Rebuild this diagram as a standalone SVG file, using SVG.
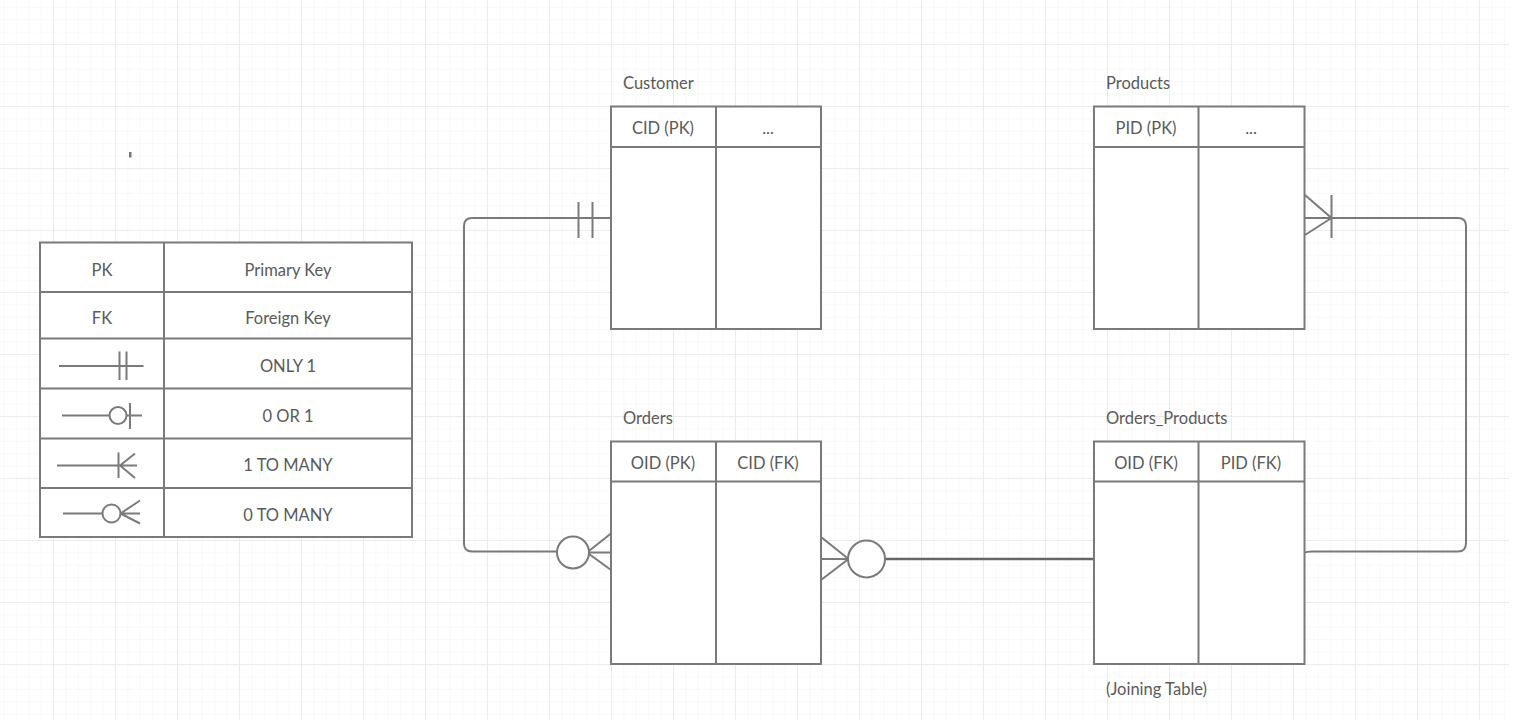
<svg xmlns="http://www.w3.org/2000/svg" width="1514" height="720" viewBox="0 0 1514 720">
<defs>
<pattern id="minor" patternUnits="userSpaceOnUse" x="53" y="44" width="12.4" height="12.4">
<path d="M0 0V12.4M0 0H12.4" fill="none" stroke="#f3f3f3" stroke-width="1"/>
</pattern>
<pattern id="major" patternUnits="userSpaceOnUse" x="53" y="44" width="62" height="62">
<path d="M0 0V62M0 0H62" fill="none" stroke="#e8e8e8" stroke-width="1.6"/>
</pattern>
<style>
.t{font-family:Lato,"Liberation Sans",sans-serif;font-size:16.5px;fill:#5a5a5a}
.c{text-anchor:middle}
.box{fill:#fff;stroke:#7a7a7a;stroke-width:2}
.ln{fill:none;stroke:#7a7a7a;stroke-width:2}
.sym{fill:#fff;stroke:#7a7a7a;stroke-width:2}
</style>
</defs>
<rect width="1514" height="720" fill="#fff"/>
<rect x="0" y="0" width="1509" height="720" fill="url(#minor)"/>
<rect x="0" y="0" width="1509" height="720" fill="url(#major)"/>
<rect x="129" y="152" width="2.5" height="5.5" fill="#777"/>

<g id="legend">
<rect class="box" x="40" y="242.5" width="372" height="294.5"/>
<path class="ln" d="M164 242.5V537M40 292H412M40 338.5H412M40 388.5H412M40 438.5H412M40 488H412"/>
<text class="t c" x="102" y="275.5">PK</text>
<text class="t c" x="288" y="275.5">Primary Key</text>
<text class="t c" x="102" y="324">FK</text>
<text class="t c" x="288" y="324">Foreign Key</text>
<text class="t c" x="288" y="372">ONLY 1</text>
<text class="t c" x="288" y="421.5">0 OR 1</text>
<text class="t c" x="288" y="471">1 TO MANY</text>
<text class="t c" x="288" y="520.5">0 TO MANY</text>
<path class="ln" d="M59 366H143.5M119.5 351.5V380M126.5 351.5V380"/>
<path class="ln" d="M62 415.5H109.5M126.5 415.5H142M130 403V429"/>
<circle class="sym" cx="118" cy="415.5" r="8.5"/>
<path class="ln" d="M57 465.5H137M118.5 452.5V478M120 465.5L135 453.5M120 465.5L135 478"/>
<path class="ln" d="M63 513.5H103M120.5 513.5H140M120.5 513.5L140 500.5M120.5 513.5L140 523.5"/>
<circle class="sym" cx="111.5" cy="513.5" r="9"/>
</g>

<g id="connectors">
<path class="ln" d="M611 218H472Q464 218 464 226V543.5Q464 551.5 472 551.5H557"/>
<path class="ln" d="M578.5 202V238M592.5 202V238"/>
<path class="ln" d="M588.5 552.5H611M587 552.5L611 533.5M587 552.5L611 570"/>
<circle class="sym" cx="573" cy="552.5" r="16"/>
<path class="ln" d="M821 559H848.5M821 537L848.5 559M821 580L848.5 559"/>
<path d="M885 559H1094" fill="none" stroke="#666" stroke-width="2.4"/>
<circle class="sym" cx="866.5" cy="559" r="18.5"/>
<path class="ln" d="M1305 218H1458Q1466 218 1466 226V543Q1466 551.5 1458 551.5H1312Q1306 551.5 1305 553"/>
<path class="ln" d="M1331.5 195V238M1305 195L1331.5 218M1305 235L1331.5 218"/>
</g>

<g id="customer">
<text class="t" x="623" y="89">Customer</text>
<rect class="box" x="611" y="106.5" width="210" height="222.5"/>
<path class="ln" d="M716 106.5V329M611 147H821"/>
<text class="t c" x="663" y="133.5">CID (PK)</text>
<text class="t c" x="768" y="133.5">...</text>
</g>

<g id="products">
<text class="t" x="1106" y="89">Products</text>
<rect class="box" x="1094" y="106.5" width="210.5" height="222.5"/>
<path class="ln" d="M1198.5 106.5V329M1094 147H1304.5"/>
<text class="t c" x="1146" y="133.5">PID (PK)</text>
<text class="t c" x="1251" y="133.5">...</text>
</g>

<g id="orders">
<text class="t" x="623" y="423.5">Orders</text>
<rect class="box" x="611" y="441.5" width="210" height="222.5"/>
<path class="ln" d="M716 441.5V664M611 481.5H821"/>
<text class="t c" x="663" y="468.5">OID (PK)</text>
<text class="t c" x="768" y="468.5">CID (FK)</text>
</g>

<g id="orders_products">
<text class="t" x="1106" y="423.5">Orders_Products</text>
<rect class="box" x="1094" y="441.5" width="210.5" height="222.5"/>
<path class="ln" d="M1198.5 441.5V664M1094 481.5H1304.5"/>
<text class="t c" x="1146" y="468.5">OID (FK)</text>
<text class="t c" x="1251" y="468.5">PID (FK)</text>
<text class="t" x="1106" y="695">(Joining Table)</text>
</g>
</svg>
